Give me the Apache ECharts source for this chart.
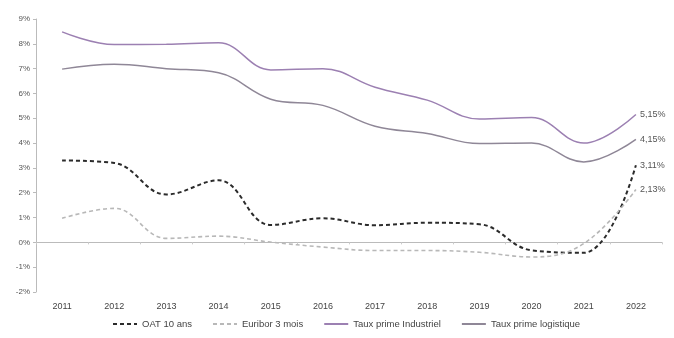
<!DOCTYPE html>
<html><head><meta charset="utf-8">
<script src="https://cdn.jsdelivr.net/npm/echarts@6/dist/echarts.min.js"></script>
<style>html,body{margin:0;padding:0;background:#fff}#c{width:674px;height:338px}</style>
</head><body><div id="c"></div>
<script>
const years = ['2011','2012','2013','2014','2015','2016','2017','2018','2019','2020','2021','2022'];
const oat = [3.3, 3.2, 1.93, 2.5, 0.7, 0.97, 0.69, 0.79, 0.73, -0.32, -0.42, 3.11];
const euribor = [0.97, 1.37, 0.16, 0.25, 0.01, -0.19, -0.33, -0.33, -0.4, -0.59, -0.05, 2.13];
const industriel = [8.48, 7.97, 7.98, 8.04, 6.95, 7.0, 6.25, 5.73, 4.97, 5.03, 4.0, 5.15];
const logistique = [6.98, 7.18, 7.0, 6.83, 5.77, 5.52, 4.68, 4.39, 3.98, 4.0, 3.24, 4.15];
const endLabels = ['3,11%', '2,13%', '5,15%', '4,15%'];
const names = ['OAT 10 ans', 'Euribor 3 mois', 'Taux prime Industriel', 'Taux prime logistique'];

const font = 'Liberation Sans, Arial, sans-serif';
const chart = echarts.init(document.getElementById('c'));
function mk(i, data, color, width, type) {
  return {
    name: names[i], type: 'line', data: data, smooth: 0.4, symbol: 'none',
    xAxisIndex: 0,
    lineStyle: { color: color, width: width, type: type },
    itemStyle: { color: color },
    endLabel: { show: true, formatter: endLabels[i], color: '#555', fontSize: 9, fontFamily: font, distance: 4 },
    z: 3
  };
}
const series = [
  mk(0, oat, '#2b2b2b', 2, [4, 3]),
  mk(1, euribor, '#b8b8b8', 1.6, [4, 3]),
  mk(2, industriel, '#9c80b2', 1.5, 'solid'),
  mk(3, logistique, '#8f8797', 1.5, 'solid')
];
chart.setOption({
  animation: false,
  grid: { left: 36, right: 12, top: 19, bottom: 46 },
  legend: {
    bottom: 4, left: 107, itemWidth: 24, itemHeight: 6, itemGap: 20,
    textStyle: { fontSize: 9.5, color: '#444', fontFamily: font },
    itemStyle: { opacity: 0 },
    data: names.map(n => ({ name: n }))
  },
  xAxis: [{
    type: 'category', data: years, position: 'bottom',
    axisLine: { show: true, onZero: true, lineStyle: { color: '#bbb', width: 1 } },
    axisTick: { show: true, length: 2, lineStyle: { color: '#ccc' } },
    axisLabel: { show: false }
  }, {
    type: 'category', data: years, position: 'bottom',
    axisLine: { show: false, onZero: false }, axisTick: { show: false },
    axisLabel: { fontSize: 9, color: '#444', fontFamily: font, margin: 10 }
  }],
  yAxis: {
    type: 'value', min: -2, max: 9, interval: 1,
    axisLine: { show: true, lineStyle: { color: '#bbb' } },
    axisTick: { show: true, length: 3, lineStyle: { color: '#bbb' } },
    splitLine: { show: false },
    axisLabel: { formatter: '{value}%', fontSize: 8, color: '#555', fontFamily: font, margin: 6 }
  },
  series: series
});
</script></body></html>
